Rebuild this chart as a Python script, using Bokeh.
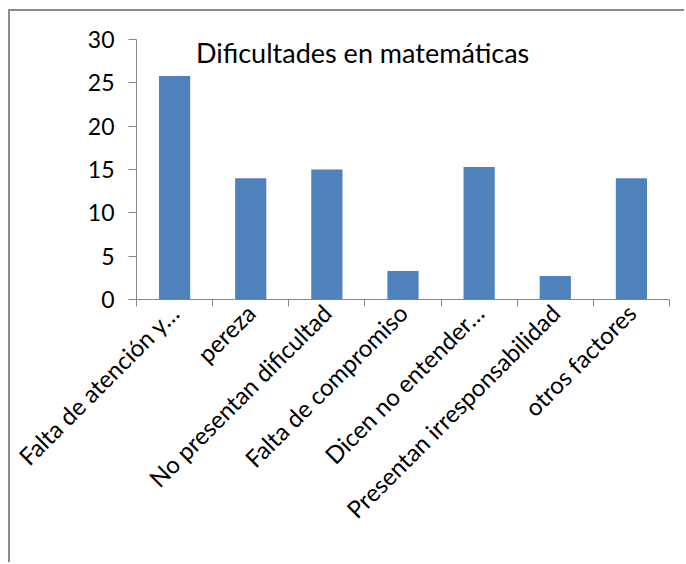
import math
from bokeh.plotting import figure
from bokeh.models import FixedTicker, Range1d, Label
from bokeh.embed import file_html
from bokeh.resources import INLINE

categorias = ["Falta de atención y…", "pereza", "No presentan dificultad",
              "Falta de compromiso", "Dicen no entender…",
              "Presentan irresponsabilidad", "otros factores"]
valores = [25.8, 14.0, 15.0, 3.3, 15.3, 2.7, 14.0]
y_ticks = [0, 5, 10, 15, 20, 25, 30]
titulo = "Dificultades en matemáticas"

FONT = "Lato"
n = len(categorias)
xs = list(range(n))

p = figure(width=676, height=553, output_backend="svg", toolbar_location=None,
           x_range=Range1d(-0.5, n - 0.5), y_range=Range1d(0, 30),
           min_border_left=126, min_border_right=17, min_border_top=28,
           min_border_bottom=265)
p.styles = {"margin-left": "8px", "margin-top": "9px",
            "border-left": "2px solid #8c8c8c", "border-top": "2px solid #8c8c8c"}
p.outline_line_color = None
p.grid.grid_line_color = None
p.background_fill_color = "white"
p.border_fill_color = "white"

p.vbar(x=xs, top=valores, width=0.41, color="#4F81BD", line_color=None)

# y axis
p.yaxis.ticker = FixedTicker(ticks=y_ticks, minor_ticks=[])
p.yaxis.axis_line_color = "#868686"
p.yaxis.major_tick_line_color = "#868686"
p.yaxis.major_tick_out = 8
p.yaxis.major_tick_in = 0
p.yaxis.minor_tick_line_color = None
p.yaxis.major_label_standoff = 14
p.yaxis.major_label_text_font = FONT
p.yaxis.major_label_text_font_size = "23px"
p.yaxis.major_label_text_color = "black"

# x axis
p.xaxis.ticker = FixedTicker(ticks=xs, minor_ticks=[i - 0.5 for i in range(n + 1)])
p.xaxis.major_label_overrides = {i: c for i, c in enumerate(categorias)}
p.xaxis.major_label_orientation = math.pi / 4
p.xaxis.axis_line_color = "#868686"
p.xaxis.major_tick_line_color = None
p.xaxis.major_tick_out = 0
p.xaxis.major_tick_in = 0
p.xaxis.minor_tick_line_color = "#868686"
p.xaxis.minor_tick_out = 7
p.xaxis.minor_tick_in = 0
p.xaxis.major_label_standoff = 2
p.xaxis.major_label_text_font = FONT
p.xaxis.major_label_text_font_size = "24px"
p.xaxis.major_label_text_color = "black"

lbl = Label(x=2.47, y=28.55, text=titulo, text_align="center", text_baseline="middle",
            text_font=FONT, text_font_size="27px", text_color="black")
p.add_layout(lbl)

open("out.html", "w").write(file_html(p, INLINE))
